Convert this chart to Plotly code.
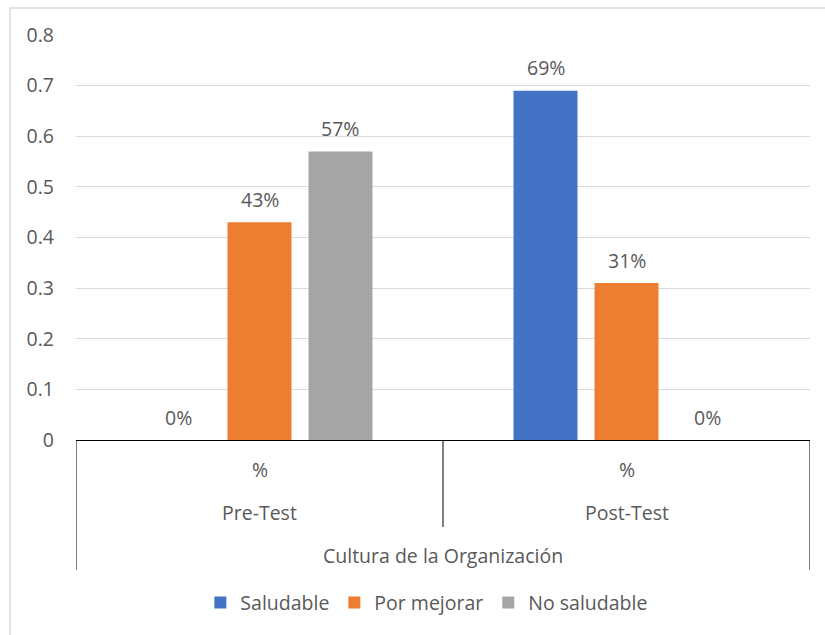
import plotly.graph_objects as go

# Data
grupos = ["Pre-Test", "Post-Test"]
series = ["Saludable", "Por mejorar", "No saludable"]
valores = {
    "Saludable": [0.00, 0.69],
    "Por mejorar": [0.43, 0.31],
    "No saludable": [0.57, 0.00],
}
colores = {"Saludable": "#4472C4", "Por mejorar": "#ED7D31", "No saludable": "#A5A5A5"}
nivel_medio = "%"
titulo_eje = "Cultura de la Organización"
y_ticks = [0, 0.1, 0.2, 0.3, 0.4, 0.5, 0.6, 0.7, 0.8]

FONT = "Open Sans"
FS = 19.5
TXT = "#595959"
BARGAP = 0.338
GROUPGAP = 0.21

fig = go.Figure()
for s in series:
    fig.add_trace(go.Bar(
        name=s, x=grupos, y=valores[s],
        marker=dict(color=colores[s], line=dict(width=0)),
    ))

# value labels above each bar
slot = (1 - BARGAP) / len(series)
annotations = []
for i, s in enumerate(series):
    for g, v in enumerate(valores[s]):
        annotations.append(dict(
            x=g + (i - (len(series) - 1) / 2) * slot, y=v, xref="x", yref="y",
            text=f"{v:.0%}", showarrow=False, yshift=23, yanchor="middle",
            font=dict(family=FONT, size=FS, color=TXT),
        ))

# multi-level category labels
for g in grupos:
    annotations.append(dict(x=g, y=-0.074, xref="x", yref="paper", text=nivel_medio,
                            showarrow=False, yanchor="middle",
                            font=dict(family=FONT, size=FS, color=TXT)))
    annotations.append(dict(x=g, y=-0.180, xref="x", yref="paper", text=g,
                            showarrow=False, yanchor="middle",
                            font=dict(family=FONT, size=FS, color=TXT)))
annotations.append(dict(x=0.5, y=-0.284, xref="paper", yref="paper", text=titulo_eje,
                        showarrow=False, yanchor="middle",
                        font=dict(family=FONT, size=FS, color=TXT)))

shapes = [
    # category dividers
    dict(type="line", xref="x", yref="paper", x0=-0.5, x1=-0.5, y0=0, y1=-0.321,
         line=dict(color="#000000", width=1)),
    dict(type="line", xref="x", yref="paper", x0=0.5, x1=0.5, y0=0, y1=-0.215,
         line=dict(color="#000000", width=1)),
    dict(type="line", xref="x", yref="paper", x0=1.5, x1=1.5, y0=0, y1=-0.321,
         line=dict(color="#000000", width=1)),
    # chart frame
    dict(type="rect", xref="paper", yref="paper", x0=-0.0899, x1=1.03, y0=-0.5, y1=1.0667,
         line=dict(color="#D9D9D9", width=1.5), fillcolor="rgba(0,0,0,0)", layer="below"),
]

fig.update_layout(
    width=825, height=635,
    margin=dict(l=76, r=15, t=35, b=195),
    paper_bgcolor="white", plot_bgcolor="white",
    barmode="group", bargap=BARGAP, bargroupgap=GROUPGAP,
    font=dict(family=FONT, size=FS, color=TXT),
    showlegend=True,
    legend=dict(orientation="h", x=0.478, xanchor="center", y=-0.402, yanchor="middle",
                font=dict(family=FONT, size=FS, color=TXT), itemwidth=30,
                traceorder="normal"),
    xaxis=dict(showticklabels=False, ticks="", showline=True, linecolor="#000000",
               linewidth=1, showgrid=False, range=[-0.5, 1.5]),
    yaxis=dict(range=[0, 0.8], tickvals=y_ticks, ticktext=[f"{t:g}" for t in y_ticks],
               showgrid=True, gridcolor="#D9D9D9", gridwidth=1.3, zeroline=False,
               showline=False, ticks="", ticklabelstandoff=21,
               tickfont=dict(family=FONT, size=FS, color=TXT)),
    annotations=annotations,
    shapes=shapes,
)

fig.write_html("out.html")
